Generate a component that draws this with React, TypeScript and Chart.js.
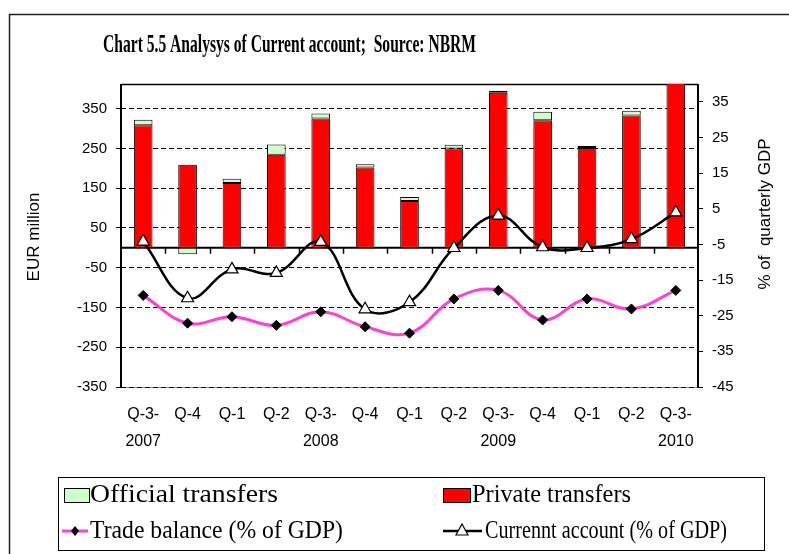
import React, { useEffect, useRef } from 'react';
import { Chart, registerables } from 'chart.js';
Chart.register(...registerables);

const categories = [
  ['Q-3-', '2007'], ['Q-4'], ['Q-1'], ['Q-2'],
  ['Q-3-', '2008'], ['Q-4'], ['Q-1'], ['Q-2'],
  ['Q-3-', '2009'], ['Q-4'], ['Q-1'], ['Q-2'],
  ['Q-3-', '2010'],
];
const privateTransfers = [308, 209, 163, 234, 325, 202, 118, 250, 390, 321, 251, 333, 430];
const officialTransfers = [14, -16, 11, 26, 13, 8, 10, 9, 5, 21, 5, 12, 8];
const tradeBalance = [-19.3, -27.1, -25.3, -27.7, -23.9, -28.1, -29.9, -20.3, -17.9, -26.2, -20.3, -23.1, -17.9];
const currentAccount = [-4.2, -20.1, -12.0, -13.0, -4.3, -23.2, -21.2, -6.0, 3.1, -5.8, -6.0, -3.5, 4.0];
const leftTicks = [-350, -250, -150, -50, 50, 150, 250, 350];
const rightTicks = [-45, -35, -25, -15, -5, 5, 15, 25, 35];

const TITLE = 'Chart 5.5 Analysys of Current account;  Source: NBRM';
const SANS = '"Liberation Sans", Arial, sans-serif';
const SERIF = '"Liberation Serif", "Times New Roman", serif';

function fitText(ctx: CanvasRenderingContext2D, text: string, x: number, y: number, width: number) {
  const w = ctx.measureText(text).width;
  ctx.save();
  ctx.translate(x, y);
  ctx.scale(width / w, 1);
  ctx.textAlign = 'left';
  ctx.textBaseline = 'middle';
  ctx.fillText(text, 0, 0);
  ctx.restore();
}

const decor = {
  id: 'decor',
  beforeDraw(chart: any) {
    const { ctx, chartArea } = chart;
    ctx.save();
    ctx.fillStyle = '#fff';
    ctx.fillRect(0, 0, chart.width, chart.height);
    ctx.strokeStyle = '#999';
    ctx.lineWidth = 1;
    ctx.beginPath();
    ctx.moveTo(chartArea.left, chartArea.bottom + 0.5);
    ctx.lineTo(chartArea.right, chartArea.bottom + 0.5);
    ctx.stroke();
    ctx.restore();
  },
  beforeDatasetsDraw(chart: any) {
    const { ctx, chartArea, scales } = chart;
    const y0 = scales.y.getPixelForValue(0);
    ctx.save();
    ctx.setLineDash([]);
    ctx.strokeStyle = '#000';
    ctx.lineWidth = 1.5;
    ctx.beginPath();
    ctx.moveTo(chartArea.left, chartArea.top + 0.5);
    ctx.lineTo(chartArea.right, chartArea.top + 0.5);
    ctx.stroke();
    // solid left / right axis lines
    ctx.lineWidth = 2;
    ctx.beginPath();
    ctx.moveTo(chartArea.left, chartArea.top);
    ctx.lineTo(chartArea.left, chartArea.bottom + 1);
    ctx.moveTo(chartArea.right, chartArea.top);
    ctx.lineTo(chartArea.right, chartArea.bottom + 1);
    ctx.stroke();
    ctx.beginPath();
    ctx.moveTo(chartArea.left, y0);
    ctx.lineTo(chartArea.right, y0);
    ctx.stroke();
    ctx.lineWidth = 1.5;
    const xs = scales.x;
    for (let i = 1; i < categories.length; i++) {
      const x = Math.round((xs.getPixelForValue(i - 1) + xs.getPixelForValue(i)) / 2) + 0.5;
      ctx.beginPath();
      ctx.moveTo(x, y0);
      ctx.lineTo(x, y0 + 6);
      ctx.stroke();
    }
    ctx.restore();
  },
  afterDraw(chart: any) {
    const { ctx } = chart;
    ctx.save();
    ctx.setLineDash([]);
    // outer frame
    ctx.strokeStyle = '#222';
    ctx.lineWidth = 1.5;
    ctx.beginPath();
    ctx.moveTo(9.5, 560);
    ctx.lineTo(9.5, 14.5);
    ctx.lineTo(800, 14.5);
    ctx.stroke();
    // title
    ctx.fillStyle = '#000';
    ctx.font = 'bold 25px ' + SERIF;
    fitText(ctx, TITLE, 103, 46, 373);
    // axis titles
    ctx.font = '17px ' + SANS;
    ctx.textAlign = 'center';
    ctx.textBaseline = 'middle';
    ctx.save();
    ctx.translate(34, 237);
    ctx.rotate(-Math.PI / 2);
    ctx.fillText('EUR million', 0, 0);
    ctx.restore();
    ctx.save();
    ctx.translate(765, 214);
    ctx.rotate(-Math.PI / 2);
    ctx.fillText('% of  quarterly GDP', 0, 0);
    ctx.restore();
    // legend box
    ctx.strokeStyle = '#000';
    ctx.lineWidth = 1;
    ctx.strokeRect(58.5, 477.5, 706, 73);
    const ds = chart.data.datasets;
    const official = ds[3];
    const priv = ds[2];
    const trade = ds[0];
    const curr = ds[1];
    const r1 = 495, r2 = 531;
    ctx.fillStyle = official.backgroundColor;
    ctx.fillRect(64, 488, 25, 14);
    ctx.strokeRect(64.5, 488.5, 25, 14);
    ctx.fillStyle = priv.backgroundColor;
    ctx.fillRect(443, 488, 27, 14);
    ctx.strokeRect(443.5, 488.5, 27, 14);
    // trade line sample
    ctx.strokeStyle = trade.borderColor;
    ctx.lineWidth = 3;
    ctx.beginPath();
    ctx.moveTo(62, r2);
    ctx.lineTo(88, r2);
    ctx.stroke();
    ctx.fillStyle = '#000';
    ctx.beginPath();
    ctx.moveTo(75, r2 - 5);
    ctx.lineTo(79, r2);
    ctx.lineTo(75, r2 + 5);
    ctx.lineTo(71, r2);
    ctx.closePath();
    ctx.fill();
    // current line sample
    ctx.strokeStyle = curr.borderColor;
    ctx.lineWidth = 2.5;
    ctx.beginPath();
    ctx.moveTo(443, r2);
    ctx.lineTo(482, r2);
    ctx.stroke();
    ctx.fillStyle = '#fff';
    ctx.lineWidth = 1.2;
    ctx.beginPath();
    ctx.moveTo(462, r2 - 7);
    ctx.lineTo(468, r2 + 4);
    ctx.lineTo(456, r2 + 4);
    ctx.closePath();
    ctx.fill();
    ctx.stroke();
    // legend texts
    ctx.fillStyle = '#000';
    ctx.font = '26px ' + SERIF;
    fitText(ctx, official.label, 90, r1, 188);
    fitText(ctx, priv.label, 472, r1, 159);
    fitText(ctx, trade.label, 90, r2, 253);
    fitText(ctx, curr.label, 485, r2, 242);
    ctx.restore();
  },
};

export default function App() {
  const ref = useRef<HTMLCanvasElement>(null);
  useEffect(() => {
    const chart = new Chart(ref.current as HTMLCanvasElement, {
      type: 'bar',
      data: {
        labels: categories,
        datasets: [
          {
            type: 'line', label: 'Trade balance (% of GDP)', data: tradeBalance, yAxisID: 'y2',
            borderColor: '#FF40D0', borderWidth: 3, pointStyle: 'rectRot', pointRadius: 5,
            pointBackgroundColor: '#000', pointBorderColor: '#000', pointBorderWidth: 1,
            tension: 0.4, order: 1, fill: false,
          },
          {
            type: 'line', label: 'Currennt account (% of GDP)', data: currentAccount, yAxisID: 'y2',
            borderColor: '#000', borderWidth: 2.5, pointStyle: 'triangle', pointRadius: 7,
            pointBackgroundColor: '#fff', pointBorderColor: '#000', pointBorderWidth: 1.2,
            tension: 0.4, order: 0, fill: false,
          },
          {
            type: 'bar', label: 'Private transfers', data: privateTransfers, yAxisID: 'y',
            backgroundColor: '#FF0000', borderColor: '#000', borderWidth: 1, borderSkipped: false,
            barPercentage: 0.42, categoryPercentage: 1, order: 2,
          },
          {
            type: 'bar', label: 'Official transfers', data: officialTransfers, yAxisID: 'y',
            backgroundColor: '#CCFFCC', borderColor: '#000', borderWidth: 1, borderSkipped: false,
            barPercentage: 0.42, categoryPercentage: 1, order: 2,
          },
        ] as any,
      },
      options: {
        animation: false,
        responsive: true,
        maintainAspectRatio: false,
        layout: { padding: { top: 84, bottom: 87, left: 0, right: 0 } },
        plugins: { legend: { display: false }, tooltip: { enabled: false }, title: { display: false } },
        scales: {
          x: {
            stacked: true,
            grid: { display: false },
            border: { display: false },
            ticks: {
              color: '#000', padding: 6, maxRotation: 0, autoSkip: false,
              font: { family: SANS, size: 16, lineHeight: 1.7 },
            },
            afterFit(s: any) { s.height = 80; },
          },
          y: {
            stacked: true,
            position: 'left',
            min: -350,
            max: 412,
            afterBuildTicks(s: any) { s.ticks = leftTicks.map((v) => ({ value: v })); },
            ticks: { color: '#000', padding: 9, font: { family: SANS, size: 15 } },
            grid: {
              color: '#000', lineWidth: 1, tickLength: 5,
              tickBorderDash: [], tickColor: '#000', tickWidth: 1,
            },
            border: { display: false, color: '#000', width: 2, dash: [5, 3] },
            afterFit(s: any) { s.width = 121; },
          },
          y2: {
            position: 'right',
            min: -45,
            max: 40,
            afterBuildTicks(s: any) { s.ticks = rightTicks.map((v) => ({ value: v })); },
            ticks: { color: '#000', padding: 9, font: { family: SANS, size: 15 } },
            grid: { drawOnChartArea: false, color: '#000', tickLength: 5, tickWidth: 1 },
            border: { display: false, color: '#000', width: 2 },
            afterFit(s: any) { s.width = 91; },
          },
        },
      } as any,
      plugins: [decor],
    });
    return () => chart.destroy();
  }, []);
  return (
    <div style={{ position: 'fixed', left: 0, top: 0, width: 789, height: 554, background: '#fff' }}>
      <canvas ref={ref} />
    </div>
  );
}
